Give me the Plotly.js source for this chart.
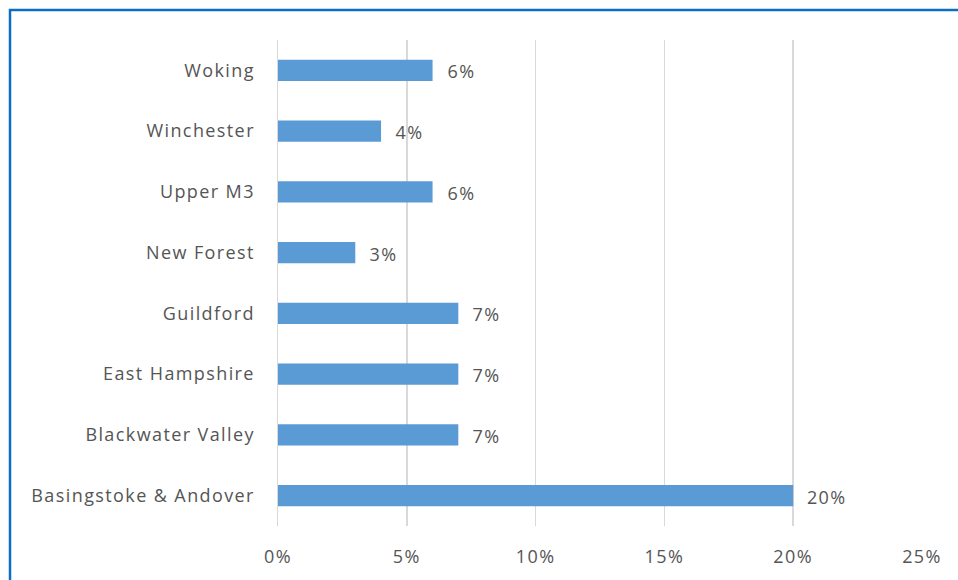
<!DOCTYPE html>
<html><head><meta charset="utf-8">
<script src="https://cdn.plot.ly/plotly-3.0.1.min.js"></script>
<style>html,body{margin:0;padding:0;background:#fff}#chart{width:958px;height:580px}
#chart svg text{letter-spacing:1.4px}</style>
</head><body><div id="chart"></div>
<script>
const categories = ["Basingstoke & Andover","Blackwater Valley","East Hampshire","Guildford","New Forest","Upper M3","Winchester","Woking"];
const shares = [0.20,0.07,0.07,0.07,0.03,0.06,0.04,0.06];
const xTickVals = [0,0.05,0.10,0.15,0.20,0.25];
const xTickText = ["0%","5%","10%","15%","20%","25%"];

const fontFam = "'Open Sans', sans-serif";
const grey = "#555555";

const trace = {
  type: "bar", orientation: "h",
  y: categories, x: shares,
  marker: {color: "#5B9BD5"},
  width: 0.35,
  hoverinfo: "skip"
};

const annotations = categories.map((c,i)=>({
  x: shares[i], y: c, xref: "x", yref: "y",
  text: Math.round(shares[i]*100) + "%",
  showarrow: false, xanchor: "left", xshift: 14, yshift: -1,
  font: {family: fontFam, size: 18, color: grey}
}));

const layout = {
  width: 958, height: 580,
  margin: {l: 278, r: 36, t: 40, b: 54},
  paper_bgcolor: "#fff", plot_bgcolor: "#fff",
  showlegend: false,
  bargap: 0.65,
  xaxis: {
    range: [0, 0.25], tickvals: xTickVals, ticktext: xTickText,
    showgrid: true, gridcolor: "#D9D9D9", gridwidth: 1.5,
    zeroline: false, showline: false, ticks: "",
    ticklabelstandoff: 18,
    tickfont: {family: fontFam, size: 18, color: grey},
    fixedrange: true
  },
  yaxis: {
    categoryorder: "array", categoryarray: categories,
    showgrid: false, zeroline: false, showline: true, linecolor: "#D9D9D9", linewidth: 1.5,
    ticks: "", ticklabelstandoff: 18,
    tickfont: {family: fontFam, size: 18, color: grey},
    fixedrange: true
  },
  annotations: annotations,
  shapes: [{
    type: "rect", xref: "paper", yref: "paper",
    x0: (10-278)/644, x1: 1.2, y0: -0.3, y1: (526-10)/486,
    line: {color: "#0A6FC2", width: 2.5}, fillcolor: "rgba(0,0,0,0)", layer: "above"
  }]
};

Plotly.newPlot("chart", [trace], layout, {displayModeBar: false, staticPlot: true});
</script></body></html>
